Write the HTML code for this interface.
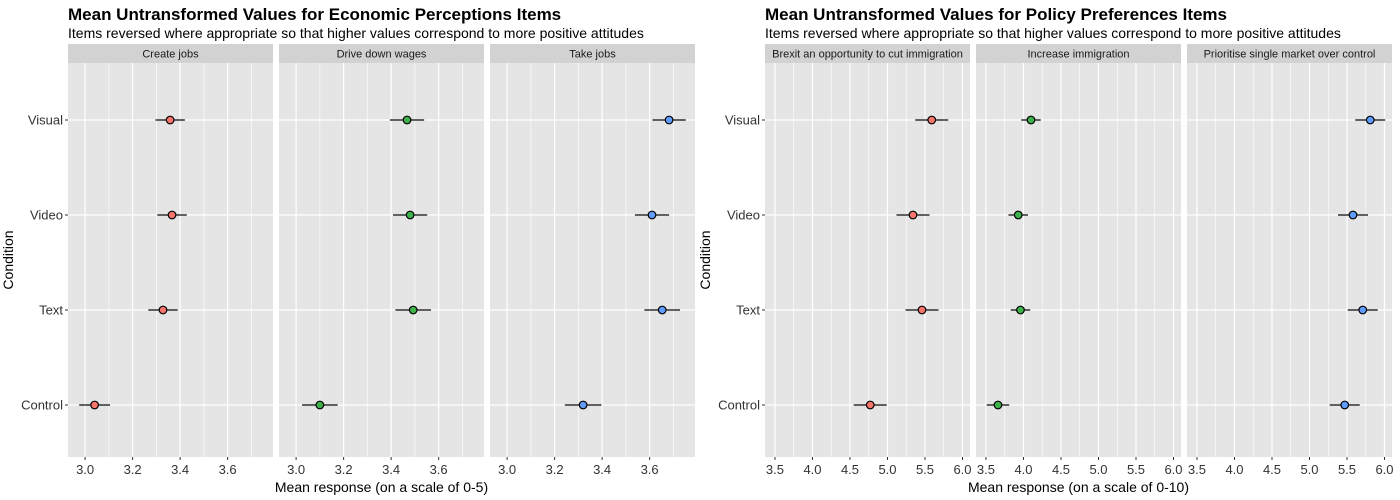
<!DOCTYPE html>
<html><head><meta charset="utf-8"><style>
body{margin:0;background:#fff;}
svg{display:block;font-family:"Liberation Sans",Arial,sans-serif;}
</style></head><body>
<svg id="c" width="1400" height="500"></svg>
<script>
const conditions=["Visual","Video","Text","Control"];
const econFacets=["Create jobs","Drive down wages","Take jobs"];
const econMeans=[[3.358,3.366,3.328,3.04],[3.467,3.48,3.493,3.10],[3.682,3.61,3.653,3.32]];
const econErr=[[0.062,0.062,0.062,0.065],[0.072,0.072,0.075,0.075],[0.07,0.072,0.075,0.077]];
const econTicks=[3.0,3.2,3.4,3.6];
const econTickLabels=["3.0","3.2","3.4","3.6"];
const polFacets=["Brexit an opportunity to cut immigration","Increase immigration","Prioritise single market over control"];
const polMeans=[[5.59,5.34,5.46,4.77],[4.1,3.93,3.96,3.66],[5.81,5.58,5.71,5.47]];
const polErr=[[0.22,0.22,0.22,0.22],[0.13,0.13,0.13,0.15],[0.2,0.2,0.2,0.2]];
const polTicks=[3.5,4.0,4.5,5.0,5.5,6.0];
const polTickLabels=["3.5","4.0","4.5","5.0","5.5","6.0"];
const colors=["#F8766D","#3DB34A","#619CFF"];
const NS="http://www.w3.org/2000/svg";
const svg=document.getElementById('c');
function mk(tag,attrs,parent,text){const e=document.createElementNS(NS,tag);for(const k in attrs)e.setAttribute(k,attrs[k]);if(text!==undefined)e.textContent=text;(parent||svg).appendChild(e);return e;}
const plotTop=63,plotBot=457,stripTop=44;
function yPos(i){return 120+i*95;}
function chart(o){
  const g=mk('g',{});
  
  
  let t=mk('text',{x:o.x0,y:20,'font-size':17,'font-weight':'bold',fill:'#000'},g,o.title);
  
  
  t=mk('text',{x:o.x0,y:38,'font-size':14,fill:'#000'},g,o.subtitle);
  
  
  const w=205,gap=6;
  o.facets.forEach((f,fi)=>{
    const px=o.x0+fi*(w+gap);
    const sx=v=>px+(v-o.dmin)/(o.dmax-o.dmin)*w;
    const pg=mk('g',{},g);
    
    
    mk('rect',{x:px,y:stripTop,width:w,height:plotTop-stripTop,fill:'#D2D2D2'},pg);
    let st=mk('text',{x:px+w/2,y:57.5,'font-size':11,'text-anchor':'middle',fill:'#1A1A1A'},pg,f);
    
    
    mk('rect',{x:px,y:plotTop,width:w,height:plotBot-plotTop,fill:'#E5E5E5'},pg);
    const step=o.ticks[1]-o.ticks[0];
    for(let v=o.ticks[0]-step/2;v<=o.dmax;v+=step){if(v>=o.dmin)mk('line',{x1:sx(v),x2:sx(v),y1:plotTop,y2:plotBot,stroke:'#fff','stroke-width':0.6},pg);}
    o.ticks.forEach((v,ti)=>{
      mk('line',{x1:sx(v),x2:sx(v),y1:plotTop,y2:plotBot,stroke:'#fff','stroke-width':1.2},pg);
      mk('line',{x1:sx(v),x2:sx(v),y1:plotBot,y2:plotBot+3,stroke:'#333','stroke-width':1},pg);
      const tl=mk('text',{x:sx(v),y:474,'font-size':13,'text-anchor':'middle',fill:'#333'},pg,o.tickLabels[ti]);
      
      
    });
    conditions.forEach((c,ci)=>mk('line',{x1:px,x2:px+w,y1:yPos(ci),y2:yPos(ci),stroke:'#fff','stroke-width':1.2},pg));
    conditions.forEach((c,ci)=>{
      const m=o.means[fi][ci],e=o.err[fi][ci];
      const eb=mk('line',{x1:sx(m-e),x2:sx(m+e),y1:yPos(ci),y2:yPos(ci),stroke:'#333','stroke-width':1.4},pg);
      
      
      const pt=mk('circle',{cx:sx(m),cy:yPos(ci),r:3.8,fill:colors[fi],stroke:'#000','stroke-width':1.2},pg);
      
      
    });
  });
  conditions.forEach((c,ci)=>{
    mk('line',{x1:o.x0-3,x2:o.x0,y1:yPos(ci),y2:yPos(ci),stroke:'#333'},g);
    const yl=mk('text',{x:o.x0-5,y:yPos(ci)+4.5,'font-size':13,'text-anchor':'end',fill:'#333'},g,c);
    
    
  });
  const yt=mk('text',{x:0,y:0,'font-size':14,'text-anchor':'middle',fill:'#000',transform:`translate(${o.x0-55},260) rotate(-90)`},g,'Condition');
  
  
  const xt=mk('text',{x:o.x0+(3*w+2*gap)/2,y:492,'font-size':14,'text-anchor':'middle',fill:'#000'},g,o.xtitle);
  
  
}
chart({name:'economic-perceptions-chart',x0:68,title:'Mean Untransformed Values for Economic Perceptions Items',subtitle:'Items reversed where appropriate so that higher values correspond to more positive attitudes',facets:econFacets,means:econMeans,err:econErr,ticks:econTicks,tickLabels:econTickLabels,dmin:2.928,dmax:3.791,xtitle:'Mean response (on a scale of 0-5)'});
chart({name:'policy-preferences-chart',x0:765,title:'Mean Untransformed Values for Policy Preferences Items',subtitle:'Items reversed where appropriate so that higher values correspond to more positive attitudes',facets:polFacets,means:polMeans,err:polErr,ticks:polTicks,tickLabels:polTickLabels,dmin:3.367,dmax:6.1,xtitle:'Mean response (on a scale of 0-10)'});
</script>
</body></html>
